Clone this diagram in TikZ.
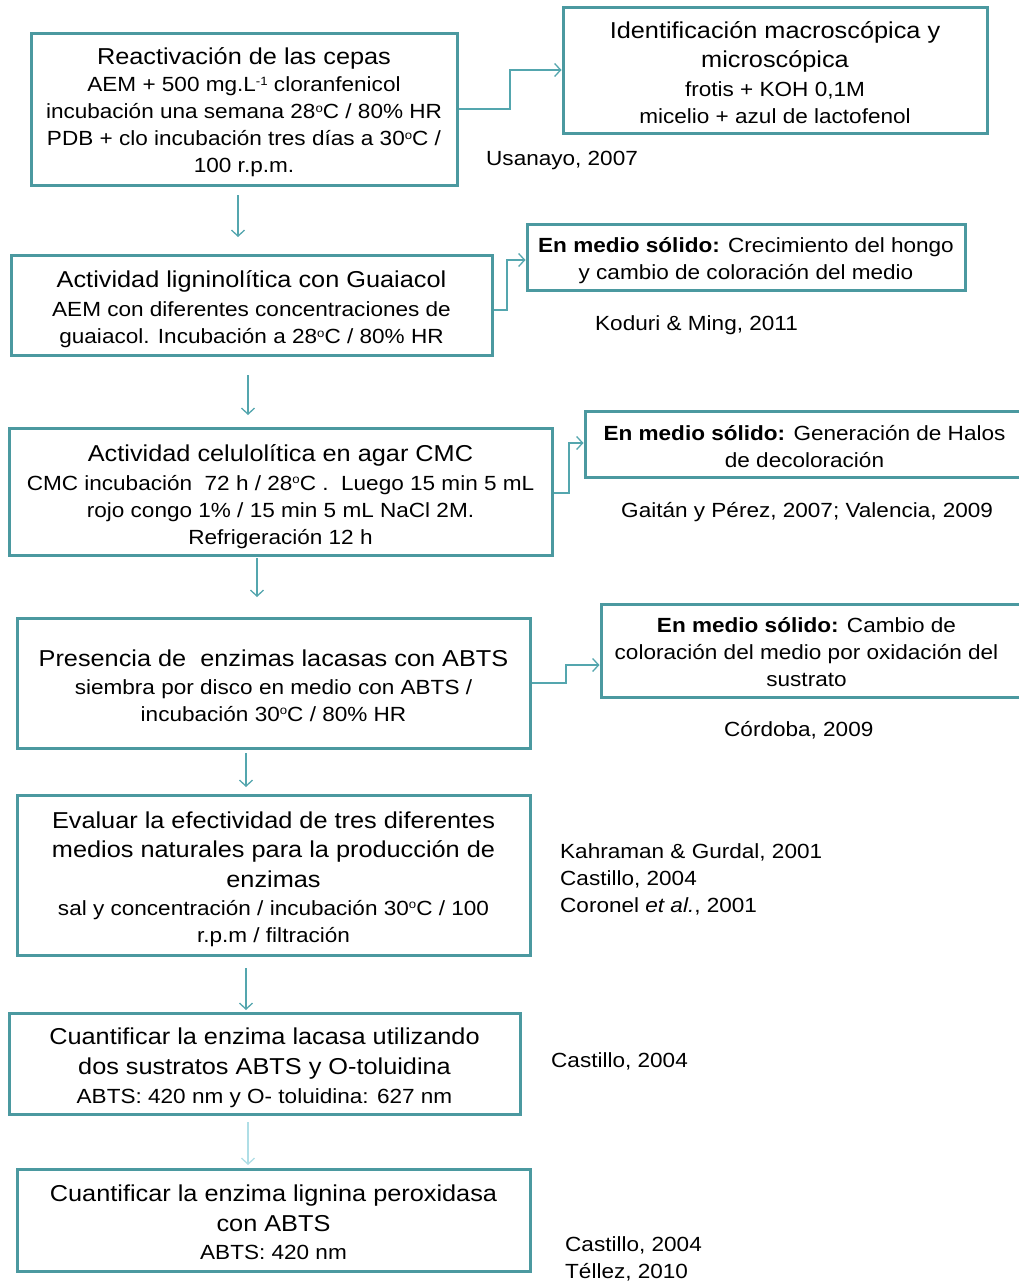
\documentclass[tikz,border=0pt]{standalone}
\usepackage{fontspec}
\setmainfont{Liberation Sans}[FakeStretch=1.1]
\usetikzlibrary{arrows.meta}
\definecolor{boxc}{RGB}{75,153,160}
\definecolor{arrc}{RGB}{84,166,174}
\definecolor{arrlight}{RGB}{175,222,230}
\newcommand\titl[1]{{\fontsize{23}{29.5}\selectfont #1}}
\newcommand\dg{\raisebox{6.5pt}{\fontsize{12}{12}\selectfont o}}
\newcommand\supm{\raisebox{6.5pt}{\fontsize{12}{12}\selectfont -1}}
\tikzset{
  box/.style={draw=boxc, line width=3pt, inner sep=0pt},
  txt/.style={align=center, inner sep=0pt,
    font=\fontsize{20.5}{27}\selectfont, text=black},
  cite/.style={anchor=west, align=left, inner sep=0pt,
    font=\fontsize{20.5}{27}\selectfont, text=black},
  conn/.style={draw=arrc, line width=1.3pt, -{Straight Barb[length=6pt,width=13pt]}},
}
\begin{document}
\begin{tikzpicture}[x=1pt,y=-1pt]
\useasboundingbox (0,0) rectangle (1018,1285);

% main boxes
\node[box, minimum width=426pt, minimum height=152pt] (b1) at (244,109) {};
\node[txt] (t1) at ([yshift=-3.5pt]b1.center)
  {\titl{Reactivación de las cepas}\\[0pt]
   AEM + 500 mg.L\supm{} cloranfenicol\\
   incubación una semana 28\dg C / 80\% HR\\
   PDB + clo incubación tres días a 30\dg C /\\
   100 r.p.m.};
\node[box, minimum width=481pt, minimum height=100pt] (b2) at (251.5,305) {};
\node[txt] (t2) at ([yshift=-4.5pt]b2.center)
  {\titl{Actividad ligninolítica con Guaiacol}\\[2pt]
   AEM con diferentes concentraciones de\\
   guaiacol. Incubación a 28\dg C / 80\% HR};
\node[box, minimum width=543pt, minimum height=127pt] (b3) at (280.5,491.5) {};
\node[txt] (t3) at ([yshift=-5pt]b3.center)
  {\titl{Actividad celulolítica en agar CMC}\\[2pt]
   CMC incubación \ 72 h / 28\dg C . \ Luego 15 min 5 mL\\
   rojo congo 1\% / 15 min 5 mL NaCl 2M.\\
   Refrigeración 12 h};
\node[box, minimum width=513pt, minimum height=130pt] (b4) at (273.5,683) {};
\node[txt] (t4) at ([yshift=-2.5pt]b4.center)
  {\titl{Presencia de \ enzimas lacasas con ABTS}\\[1pt]
   siembra por disco en medio con ABTS /\\
   incubación 30\dg C / 80\% HR};
\node[box, minimum width=513pt, minimum height=160pt] (b5) at (273.5,875) {};
\node[txt] (t5) at ([yshift=-4pt]b5.center)
  {\titl{Evaluar la efectividad de tres diferentes}\\[2.5pt]
   \titl{medios naturales para la producción de}\\[2.5pt]
   \titl{enzimas}\\[1pt]
   sal y concentración / incubación 30\dg C / 100\\
   r.p.m / filtración};
\node[box, minimum width=511pt, minimum height=101pt] (b6) at (264.5,1063.5) {};
\node[txt] (t6) at ([yshift=-4.5pt]b6.center)
  {\titl{Cuantificar la enzima lacasa utilizando}\\[2.5pt]
   \titl{dos sustratos ABTS y O-toluidina}\\[2pt]
   ABTS: 420 nm y O- toluidina: 627 nm};
\node[box, minimum width=513pt, minimum height=102pt] (b7) at (273.5,1220) {};
\node[txt] (t7) at ([yshift=-2.5pt]b7.center)
  {\titl{Cuantificar la enzima lignina peroxidasa}\\[2.5pt]
   \titl{con ABTS}\\[2pt]
   ABTS: 420 nm};

% right boxes
\node[box, minimum width=424pt, minimum height=126pt] (r1) at (775,70) {};
\node[txt] (u1) at ([yshift=-2.5pt]r1.center)
  {\titl{Identificación macroscópica y}\\[2.5pt]
   \titl{microscópica}\\[2pt]
   frotis + KOH 0,1M\\
   micelio + azul de lactofenol};
\node[box, minimum width=438pt, minimum height=66pt] (r2) at (746,257) {};
\node[txt] (u2) at ([yshift=-3.5pt]r2.center)
  {\textbf{En medio sólido:} Crecimiento del hongo\\
   y cambio de coloración del medio};
\node[box, minimum width=439pt, minimum height=66pt] (r3) at (804.5,444) {};
\node[txt] (u3) at ([yshift=-2.5pt]r3.center)
  {\textbf{En medio sólido:} Generación de Halos\\
   de decoloración};
\node[box, minimum width=423pt, minimum height=93pt] (r4) at (812.5,651) {};
\node[txt] (u4) at ([xshift=-6pt,yshift=-1.5pt]r4.center)
  {\textbf{En medio sólido:} Cambio de\\
   coloración del medio por oxidación del\\
   sustrato};

% citations
\node[cite] (c1) at (486,160) {Usanayo, 2007};
\node[cite] (c2) at (595,325) {Koduri \& Ming, 2011};
\node[cite] (c3) at (621,512) {Gaitán y Pérez, 2007; Valencia, 2009};
\node[cite] (c4) at (724,730) {Córdoba, 2009};
\node[cite] (c5) at (560,879) {Kahraman \& Gurdal, 2001\\Castillo, 2004\\Coronel \textit{et al.}, 2001};
\node[cite] (c6) at (551,1061) {Castillo, 2004};
\node[cite] (c7) at (565,1259) {Castillo, 2004\\Téllez, 2010};

% side connectors
\coordinate (m1) at (510,70);
\coordinate (m2) at (507,260);
\coordinate (m3) at (569,443);
\coordinate (m4) at (566,665);
\draw[conn] (b1.east) -| (m1) -- (r1.west |- m1);
\draw[conn] ([yshift=-5pt]b2.east) -| (m2) -- (r2.west |- m2);
\draw[conn] ([yshift=-1.5pt]b3.east) -| (m3) -- (r3.west |- m3);
\draw[conn] (b4.east) -| (m4) -- (r4.west |- m4);

% vertical arrows
\coordinate (a1s) at (238,195);  \coordinate (a1e) at (238,237);
\coordinate (a2s) at (248,375);  \coordinate (a2e) at (248,415);
\coordinate (a3s) at (257,558);  \coordinate (a3e) at (257,597);
\coordinate (a4s) at (246,753);  \coordinate (a4e) at (246,787);
\coordinate (a5s) at (246,968);  \coordinate (a5e) at (246,1010);
\coordinate (a6s) at (248,1122); \coordinate (a6e) at (248,1165);
\draw[conn] (a1s) -- (a1e);
\draw[conn] (a2s) -- (a2e);
\draw[conn] (a3s) -- (a3e);
\draw[conn] (a4s) -- (a4e);
\draw[conn] (a5s) -- (a5e);
\draw[conn, draw=arrlight] (a6s) -- (a6e);
\end{tikzpicture}
\end{document}
